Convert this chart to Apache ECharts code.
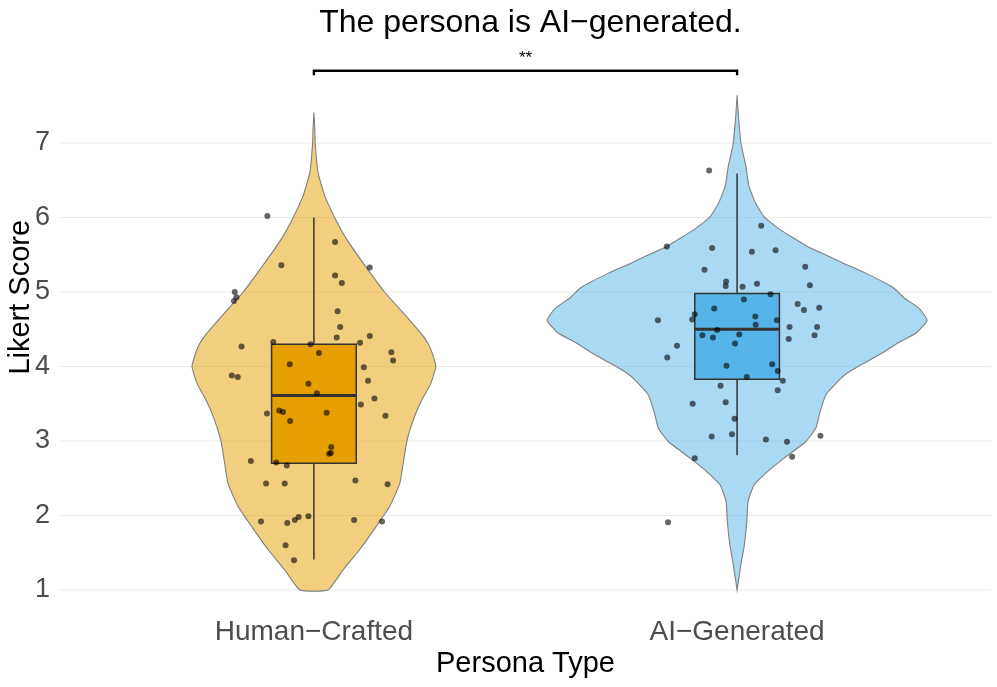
<!DOCTYPE html>
<html>
<head>
<meta charset="utf-8">
<script src="https://cdn.jsdelivr.net/npm/echarts@6/dist/echarts.min.js"></script>
<style>
html,body{margin:0;padding:0;background:#fff;}
#chart{width:997px;height:687px;}
</style>
</head>
<body>
<div id="chart"></div>
<script>
// ---------------- data ----------------
const categories = ['Human\u2212Crafted', 'AI\u2212Generated'];
const yTicks = [1, 2, 3, 4, 5, 6, 7];
const chartTitle = 'The persona is AI\u2212generated.';

// violin outline profiles (score level, half-width in category units)
const humanViolinY  = [7.41, 7.2, 7.0, 6.61, 6.30, 6.0, 5.72, 5.36, 5.0, 4.65, 4.38, 4.22, 4.0, 3.77, 3.55, 3.33, 3.01, 2.74, 2.43, 2.12, 1.85, 1.54, 1.27, 1.0];
const humanViolinHW = [0, 0.002, 0.003, 0.0095, 0.025, 0.049, 0.076, 0.12, 0.167, 0.222, 0.262, 0.277, 0.288, 0.276, 0.255, 0.238, 0.22, 0.212, 0.203, 0.179, 0.147, 0.108, 0.069, 0.033];
const aiViolinY  = [7.64, 7.38, 7.0, 6.68, 6.42, 6.19, 6.01, 5.83, 5.70, 5.61, 5.47, 5.39, 5.25, 5.09, 5.03, 4.92, 4.78, 4.62, 4.45, 4.31, 4.18, 4.02, 3.91, 3.84, 3.62, 3.39, 3.17, 2.99, 2.77, 2.59, 2.41, 2.19, 1.92, 1.60, 1.34, 1.0];
const aiViolinHW = [0, 0.003, 0.009, 0.021, 0.028, 0.044, 0.064, 0.103, 0.141, 0.166, 0.22, 0.25, 0.305, 0.36, 0.375, 0.395, 0.43, 0.449, 0.423, 0.378, 0.343, 0.292, 0.26, 0.245, 0.21, 0.196, 0.186, 0.162, 0.111, 0.072, 0.04, 0.026, 0.023, 0.017, 0.009, 0];

// boxplot stats: [lower whisker, Q1, median, Q3, upper whisker]
const humanBox = [1.41, 2.70, 3.61, 4.30, 6.00];
const aiBox    = [2.81, 3.83, 4.50, 4.98, 6.59];

// jittered points: score and horizontal jitter (category units)
const humanPointsY = [6.02, 5.36, 5.67, 5.33, 5.22, 5.12, 5.0, 4.93, 4.88, 4.74, 4.53, 4.39, 4.41, 4.32, 4.33, 4.27, 4.30, 4.18, 4.19, 4.08, 4.03, 3.88, 3.86, 3.99, 3.77, 3.81, 3.64, 3.57, 3.49, 3.41, 3.39, 3.37, 3.38, 3.34, 3.27, 2.92, 2.84, 2.83, 2.73, 2.71, 2.67, 2.47, 2.43, 2.43, 2.42, 1.92, 1.90, 1.94, 1.98, 1.99, 1.94, 1.92, 1.60, 1.40];
const humanPointsJitter = [-0.110, -0.077, 0.050, 0.132, 0.050, 0.066, -0.187, -0.183, -0.189, 0.056, 0.062, 0.054, 0.132, 0.109, -0.096, -0.171, -0.008, 0.012, 0.183, 0.187, -0.057, -0.194, -0.180, 0.118, -0.013, 0.128, 0.007, 0.143, 0.111, -0.082, -0.073, -0.111, 0.030, 0.169, -0.056, 0.041, 0.040, 0.036, -0.149, -0.089, -0.064, 0.098, -0.113, -0.069, 0.174, -0.125, -0.063, -0.045, -0.036, -0.013, 0.095, 0.161, -0.067, -0.047];
const aiPointsY = [6.63, 5.89, 5.61, 5.59, 5.54, 5.56, 5.30, 5.34, 5.14, 5.08, 5.07, 5.11, 5.09, 4.97, 4.90, 4.84, 4.76, 4.79, 4.78, 4.62, 4.63, 4.70, 4.67, 4.56, 4.62, 4.53, 4.53, 4.49, 4.42, 4.39, 4.43, 4.37, 4.42, 4.28, 4.12, 4.31, 4.01, 4.03, 3.94, 3.86, 3.81, 3.74, 3.68, 3.50, 3.52, 3.30, 3.06, 3.09, 3.02, 2.99, 3.07, 2.77, 2.79, 1.91];
const aiPointsJitter = [-0.066, 0.057, -0.166, -0.059, 0.035, 0.091, -0.077, 0.161, -0.026, -0.027, 0.013, 0.047, 0.172, 0.079, 0.016, 0.143, 0.158, 0.194, -0.054, -0.187, -0.106, -0.100, 0.043, 0.044, 0.094, 0.124, 0.189, -0.047, -0.082, -0.057, 0.005, 0.122, 0.183, -0.142, -0.165, -0.005, -0.025, 0.083, 0.096, 0.023, 0.108, -0.039, 0.096, -0.105, -0.027, -0.006, -0.060, -0.012, 0.068, 0.118, 0.197, -0.100, 0.130, -0.163];

// significance annotation
const sigFrom = 1, sigTo = 2;
const sigY = 7.97, sigTipY = 7.91;
const sigLabel = '**';

// ---------------- styles ----------------
const FONT = '"Liberation Sans", Arial, Helvetica, sans-serif';
const violinFill = ['rgba(230,159,0,0.5)', 'rgba(86,180,233,0.5)'];
const boxFill = ['#E69F00', '#56B4E9'];
const BOX_HALF = 0.1;

const violins = [
  { x: 1, ys: humanViolinY, hw: humanViolinHW },
  { x: 2, ys: aiViolinY, hw: aiViolinHW }
];
const boxes = [
  { x: 1, s: humanBox },
  { x: 2, s: aiBox }
];

const chart = echarts.init(document.getElementById('chart'), null, { renderer: 'canvas' });

const option = {
  backgroundColor: '#ffffff',
  animation: false,
  title: {
    text: chartTitle,
    left: 525.5,
    top: 2,
    textAlign: 'center',
    textStyle: { fontFamily: FONT, fontSize: 32, fontWeight: 'normal', color: '#000' }
  },
  grid: { left: 60, right: 6, top: 46.15, bottom: 74.65, containLabel: false, outerBoundsMode: 'none' },
  xAxis: {
    type: 'value', min: 0.4, max: 2.6,
    axisLine: { show: false }, axisTick: { show: false }, splitLine: { show: false },
    axisLabel: {
      customValues: [1, 2],
      formatter: v => categories[Math.round(v) - 1] || '',
      fontFamily: FONT, fontSize: 28, color: '#4D4D4D', margin: 6
    },
    name: 'Persona Type', nameLocation: 'middle', nameGap: 37, nameMoveOverlap: false,
    nameTextStyle: { fontFamily: FONT, fontSize: 29, color: '#000' }
  },
  yAxis: {
    type: 'value', min: 0.7, max: 8.3,
    axisLine: { show: false }, axisTick: { show: false }, splitLine: { show: false },
    axisLabel: { customValues: yTicks, fontFamily: FONT, fontSize: 27, color: '#4D4D4D', margin: 10 },
    name: 'Likert Score', nameLocation: 'middle', nameGap: 25, nameMoveOverlap: false,
    nameTextStyle: { fontFamily: FONT, fontSize: 29, color: '#000', padding: [0, 0, 0, 64] }
  },
  series: [
    { // gridlines
      type: 'custom', z: 0, silent: true,
      data: yTicks.map(v => [v]),
      renderItem: (params, api) => {
        const cs = params.coordSys;
        const y = api.coord([1, api.value(0)])[1];
        return { type: 'line', shape: { x1: cs.x, y1: y, x2: cs.x + cs.width, y2: y },
          style: { stroke: '#EBEBEB', lineWidth: 1.1 } };
      }
    },
    { // violins
      type: 'custom', z: 1, silent: true,
      data: violins.map((v, i) => [v.x, i]),
      renderItem: (params, api) => {
        const v = violins[params.dataIndex];
        const left = [], right = [];
        for (let k = 0; k < v.ys.length; k++) {
          left.push(api.coord([v.x - v.hw[k], v.ys[k]]));
          right.push(api.coord([v.x + v.hw[k], v.ys[k]]));
        }
        const pts = left.concat(right.reverse());
        return { type: 'polygon', shape: { points: pts, smooth: 0.15 },
          style: { fill: violinFill[params.dataIndex], stroke: '#7F7F7F', lineWidth: 1.1 } };
      }
    },
    { // boxplots
      type: 'custom', z: 2, silent: true,
      data: boxes.map((b, i) => [b.x, i]),
      renderItem: (params, api) => {
        const b = boxes[params.dataIndex];
        const s = b.s;
        const tl = api.coord([b.x - BOX_HALF, s[3]]);
        const br = api.coord([b.x + BOX_HALF, s[1]]);
        const med = api.coord([b.x, s[2]])[1];
        const cx = api.coord([b.x, s[2]])[0];
        const lo = api.coord([b.x, s[0]])[1];
        const hi = api.coord([b.x, s[4]])[1];
        const st = { stroke: '#333333', lineWidth: 1.5 };
        return { type: 'group', children: [
          { type: 'line', shape: { x1: cx, y1: hi, x2: cx, y2: tl[1] }, style: st },
          { type: 'line', shape: { x1: cx, y1: br[1], x2: cx, y2: lo }, style: st },
          { type: 'rect', shape: { x: tl[0], y: tl[1], width: br[0] - tl[0], height: br[1] - tl[1] },
            style: { fill: boxFill[params.dataIndex], stroke: '#333333', lineWidth: 1.5 } },
          { type: 'line', shape: { x1: tl[0], y1: med, x2: br[0], y2: med }, style: { stroke: '#333333', lineWidth: 3 } }
        ] };
      }
    },
    { // jittered points
      type: 'scatter', z: 3, silent: true,
      symbol: 'circle', symbolSize: 6,
      itemStyle: { color: 'rgba(0,0,0,0.75)' },
      data: humanPointsY.map((y, i) => [1 + humanPointsJitter[i], y])
        .concat(aiPointsY.map((y, i) => [2 + aiPointsJitter[i], y]))
    },
    { // significance bracket
      type: 'custom', z: 4, silent: true,
      data: [[sigFrom, sigTo, sigY, sigTipY]],
      renderItem: (params, api) => {
        const a = api.coord([api.value(0), api.value(3)]);
        const b = api.coord([api.value(0), api.value(2)]);
        const c = api.coord([api.value(1), api.value(2)]);
        const d = api.coord([api.value(1), api.value(3)]);
        const m = api.coord([(api.value(0) + api.value(1)) / 2, api.value(2)]);
        return { type: 'group', children: [
          { type: 'polyline', shape: { points: [a, b, c, d] },
            style: { stroke: '#000', lineWidth: 2.4, fill: null } },
          { type: 'text', x: m[0], y: m[1] - 4,
            style: { text: sigLabel, fontFamily: FONT, fontSize: 17, fill: '#000', align: 'center', verticalAlign: 'bottom' } }
        ] };
      }
    }
  ]
};
chart.setOption(option);
</script>
</body>
</html>
